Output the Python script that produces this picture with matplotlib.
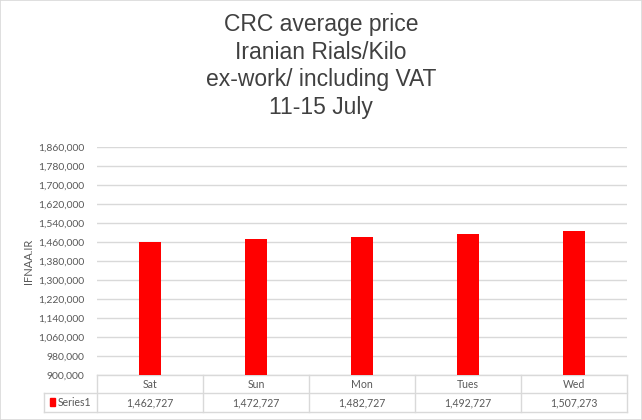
import matplotlib
matplotlib.use("Agg")
import matplotlib.pyplot as plt
from matplotlib.patches import Rectangle
from matplotlib.lines import Line2D

categories = ["Sat", "Sun", "Mon", "Tues", "Wed"]
values = [1462727, 1472727, 1482727, 1492727, 1507273]
series_name = "Series1"
title_lines = ["CRC average price", "Iranian Rials/Kilo", "ex-work/ including VAT", "11-15 July"]
y_label = "IFNAA.IR"
y_min, y_max, y_step = 900000, 1860000, 80000

W, H = 642, 420
fig = plt.figure(figsize=(W / 100, H / 100), dpi=100)
fig.patches.append(Rectangle((0, 0), 1, 1, transform=fig.transFigure, fill=False,
                             edgecolor="#d9d9d9", linewidth=1.2))

L, R, B, T = 97, 627, 375, 147.3
ax = fig.add_axes([L / W, 1 - B / H, (R - L) / W, (B - T) / H])

grid_c = "#d9d9d9"
txt_c = "#595959"
tick_font = "Lato"

x = list(range(len(categories)))
ax.bar(x, values, width=0.21, color="#ff0000", zorder=3)
ax.set_xlim(-0.5, len(categories) - 0.5)
ax.set_ylim(y_min, y_max)
ticks = list(range(y_min, y_max + 1, y_step))
ax.set_yticks(ticks)
ax.set_yticklabels([f"{t:,}" for t in ticks], fontsize=7.5, color=txt_c, family=tick_font)
ax.tick_params(axis="y", length=0, pad=9)
ax.set_xticks([])
ax.grid(axis="y", color=grid_c, linewidth=1, zorder=0)
for s in ax.spines.values():
    s.set_visible(False)
ax.set_ylabel(y_label, fontsize=8, color=txt_c, family=tick_font)
ax.yaxis.set_label_coords((34 - L) / (R - L), 0.5)

# data table
ph = B - T
pw = R - L
def ay(py):
    return (B - py) / ph
def ax_(px):
    return (px - L) / pw

h_top, h_mid, h_bot = 375, 393, 412
lab_left = 44
lines = []
lines.append(((0, 1), (ay(h_top), ay(h_top))))
lines.append(((ax_(lab_left), 1), (ay(h_mid), ay(h_mid))))
lines.append(((ax_(lab_left), 1), (ay(h_bot), ay(h_bot))))
n = len(categories)
for i in range(n + 1):
    xx = i / n
    lines.append(((xx, xx), (ay(h_top), ay(h_bot))))
lines.append(((ax_(lab_left), ax_(lab_left)), (ay(h_mid), ay(h_bot))))
for xs, ys in lines:
    ax.add_line(Line2D(xs, ys, transform=ax.transAxes, color=grid_c, linewidth=1, clip_on=False))

for i, (c, v) in enumerate(zip(categories, values)):
    cx = (i + 0.5) / n
    ax.text(cx, ay((h_top + h_mid) / 2), c, transform=ax.transAxes, ha="center", va="center",
            fontsize=7.6, color=txt_c, family=tick_font)
    ax.text(cx, ay((h_mid + h_bot) / 2), f"{v:,}", transform=ax.transAxes, ha="center", va="center",
            fontsize=7.6, color=txt_c, family=tick_font)

ax.add_patch(Rectangle((ax_(50), ay(406)), ax_(55) - ax_(50), ay(398) - ay(406),
                       transform=ax.transAxes, color="#ff0000", clip_on=False))
ax.text(ax_(57.5), ay((h_mid + h_bot) / 2), series_name, transform=ax.transAxes, ha="left",
        va="center", fontsize=7.6, color=txt_c, family=tick_font)

fig.text(0.5, 1 - 66 / H, "\n".join(title_lines), ha="center", va="center", fontsize=16.5,
         color="#404040", family="Liberation Sans", linespacing=1.26)

fig.savefig("out.png", dpi=100)
